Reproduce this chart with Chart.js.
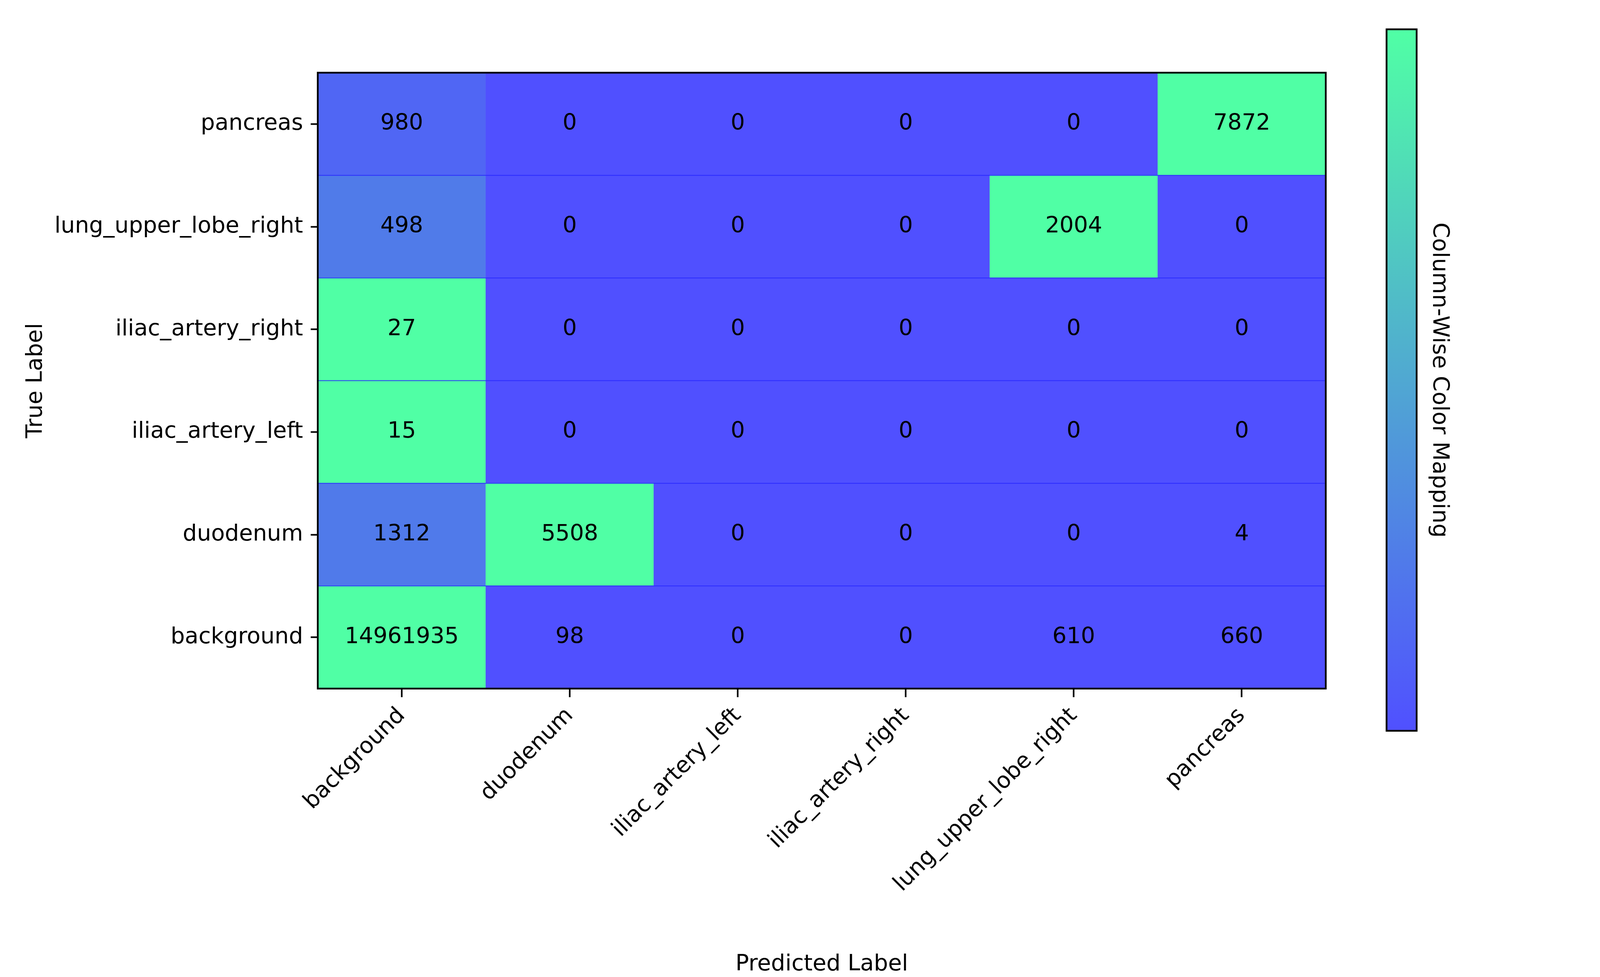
<!DOCTYPE html>
<html>
<head>
<meta charset="utf-8">
<script src="https://cdn.jsdelivr.net/npm/chart.js@4/dist/chart.umd.min.js"></script>
<style>
  html, body { margin: 0; padding: 0; background: #ffffff; overflow: hidden; }
  #wrap { position: relative; }
  canvas { display: block; }
</style>
</head>
<body>
<div id="wrap"><canvas id="c"></canvas></div>
<script>
// ---- Data ----
const predictedLabels = ["background", "duodenum", "iliac_artery_left", "iliac_artery_right", "lung_upper_lobe_right", "pancreas"];
// true labels, bottom -> top
const trueLabels = ["background", "duodenum", "iliac_artery_left", "iliac_artery_right", "lung_upper_lobe_right", "pancreas"];

const rowBackground         = [14961935, 98, 0, 0, 610, 660];
const rowDuodenum           = [1312, 5508, 0, 0, 0, 4];
const rowIliacArteryLeft    = [15, 0, 0, 0, 0, 0];
const rowIliacArteryRight   = [27, 0, 0, 0, 0, 0];
const rowLungUpperLobeRight = [498, 0, 0, 0, 2004, 0];
const rowPancreas           = [980, 0, 0, 0, 0, 7872];

const matrixRows = [rowBackground, rowDuodenum, rowIliacArteryLeft, rowIliacArteryRight, rowLungUpperLobeRight, rowPancreas];

const colorbarLabel = "Column-Wise Color Mapping";

// ---- fill the viewport (design space is 5000 x 2500) ----
const W = window.innerWidth, H = window.innerHeight;
const SX = W / 5000, SY = H / 2500, SF = Math.min(SX, SY);
const hx = v => v * SX;   // horizontal design px
const vy = v => v * SY;   // vertical design px
const fz = v => v * SF;   // font / line sizes
const wrap = document.getElementById('wrap');
wrap.style.width = W + 'px';
wrap.style.height = H + 'px';
const canvas = document.getElementById('c');
canvas.style.width = W + 'px';
canvas.style.height = H + 'px';

// ---- Colormap ----
const lowColor = [80, 80, 255];
const highColor = [80, 255, 165];
function cmap(t) {
  const c = lowColor.map((v, i) => Math.round(v + (highColor[i] - v) * t));
  return `rgb(${c[0]},${c[1]},${c[2]})`;
}

const FONT = "'DejaVu Sans', 'Liberation Sans', sans-serif";
const FS = fz(70);
Chart.defaults.font.family = FONT;
Chart.defaults.font.size = FS;
Chart.defaults.color = '#000000';

const datasets = matrixRows.map((row, r) => {
  const mx = Math.max(...row);
  return {
    label: trueLabels[r],
    data: row.map(() => [r, r + 1]),
    backgroundColor: row.map(v => cmap(mx > 0 ? v / mx : 0)),
    borderWidth: 0,
    barPercentage: 1.0,
    categoryPercentage: 1.0,
    grouped: false
  };
});

const cellPlugin = {
  id: 'cells',
  afterDatasetsDraw(chart) {
    const ctx = chart.ctx;
    const yScale = chart.scales.y;
    const area = chart.chartArea;
    ctx.save();
    // faint row separators
    ctx.strokeStyle = 'rgba(40,40,255,0.75)';
    ctx.lineWidth = fz(3);
    for (let k = 1; k < trueLabels.length; k++) {
      const py = yScale.getPixelForValue(k);
      ctx.beginPath();
      ctx.moveTo(area.left, py);
      ctx.lineTo(area.right, py);
      ctx.stroke();
    }
    // values
    ctx.fillStyle = '#000000';
    ctx.font = `${FS}px ${FONT}`;
    ctx.textAlign = 'center';
    ctx.textBaseline = 'middle';
    chart.data.datasets.forEach((ds, r) => {
      const meta = chart.getDatasetMeta(r);
      meta.data.forEach((el, c) => {
        const cy = (el.y + el.base) / 2;
        ctx.fillText(String(matrixRows[r][c]), el.x, cy);
      });
    });
    // frame
    ctx.strokeStyle = '#000000';
    ctx.lineWidth = fz(5.5);
    ctx.strokeRect(area.left, area.top, area.right - area.left, area.bottom - area.top);
    ctx.restore();
  },
  afterDraw(chart) {
    const ctx = chart.ctx;
    const area = chart.chartArea;
    const x0 = area.right + hx(190), w = hx(94), top = vy(75), bottom = vy(1870);
    ctx.save();
    const g = ctx.createLinearGradient(0, bottom, 0, top);
    for (let i = 0; i <= 10; i++) g.addColorStop(i / 10, cmap(i / 10));
    ctx.fillStyle = g;
    ctx.fillRect(x0, top, w, bottom - top);
    ctx.strokeStyle = '#000000';
    ctx.lineWidth = fz(5.5);
    ctx.strokeRect(x0, top, w, bottom - top);
    ctx.translate(area.right + hx(336), (top + bottom) / 2);
    ctx.rotate(Math.PI / 2);
    ctx.fillStyle = '#000000';
    ctx.font = `${FS}px ${FONT}`;
    ctx.textAlign = 'center';
    ctx.textBaseline = 'alphabetic';
    ctx.fillText(colorbarLabel, 0, 0);
    ctx.restore();
  }
};

new Chart(canvas, {
  type: 'bar',
  data: { labels: predictedLabels, datasets },
  options: {
    responsive: false,
    maintainAspectRatio: false,
    animation: false,
    layout: { padding: { left: 0, top: vy(186), right: hx(857), bottom: 0 } },
    plugins: { legend: { display: false }, tooltip: { enabled: false } },
    scales: {
      x: {
        type: 'category',
        offset: true,
        border: { display: false },
        grid: { offset: false, drawOnChartArea: false, tickLength: vy(22), tickWidth: fz(5), tickColor: '#000000', color: '#000000' },
        ticks: { autoSkip: false, minRotation: 45, maxRotation: 45, padding: vy(14), font: { size: FS }, color: '#000000' },
        title: { display: true, text: 'Predicted Label', font: { size: FS, lineHeight: 0.9 }, padding: { top: 0, bottom: vy(32) - FS * 0.45 }, color: '#000000' },
        afterFit(scale) { scale.height = vy(738); }
      },
      y: {
        type: 'linear',
        min: 0,
        max: 6,
        border: { display: false },
        grid: { drawOnChartArea: false, tickLength: hx(22), tickWidth: fz(5), tickColor: '#000000', color: '#000000' },
        afterBuildTicks(scale) {
          scale.ticks = trueLabels.map((_, i) => ({ value: i + 0.5 }));
        },
        ticks: {
          autoSkip: false,
          padding: hx(24),
          font: { size: FS },
          color: '#000000',
          callback: (v) => trueLabels[Math.floor(v)]
        },
        title: { display: true, text: 'True Label', font: { size: FS }, padding: { top: hx(112) - FS * 0.6, bottom: 0 }, color: '#000000' },
        afterFit(scale) { scale.width = hx(993); }
      }
    }
  },
  plugins: [cellPlugin]
});
</script>
</body>
</html>
